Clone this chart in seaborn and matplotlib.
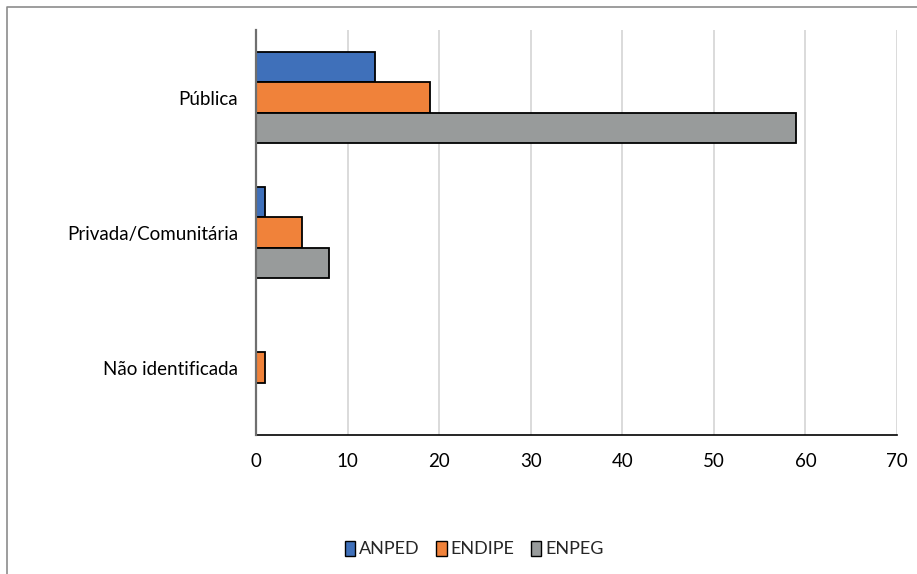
import pandas as pd
import matplotlib.pyplot as plt
import seaborn as sns
from matplotlib.lines import Line2D
from matplotlib.patches import Patch

categorias = ['Pública', 'Privada/Comunitária', 'Não identificada']
eventos = ['ANPED', 'ENDIPE', 'ENPEG']
anped = [13, 1, 0]
endipe = [19, 5, 1]
enpeg = [59, 8, 0]
cores = ['#3F70BA', '#F0823A', '#989B9B']

df = pd.DataFrame({
    'categoria': categorias * 3,
    'evento': [e for e in eventos for _ in categorias],
    'valor': anped + endipe + enpeg,
})

sns.set_style('white')
plt.rcParams['font.family'] = ['Lato', 'DejaVu Sans']

fig = plt.figure(figsize=(9.17, 5.74), dpi=100)
ax = fig.add_axes([256 / 917, 1 - 435 / 574, (897 - 256) / 917, (435 - 30) / 574])

sns.barplot(data=df, y='categoria', x='valor', hue='evento', order=categorias,
            hue_order=eventos, palette=cores, saturation=1, orient='h', width=0.667,
            edgecolor='black', linewidth=1.3, ax=ax, legend=False)

ax.set_xlim(0, 70)
ax.set_ylim(2.5, -0.5)
ax.set_xticks(range(0, 71, 10))
ax.xaxis.grid(True, color='#d4d4d4', linewidth=1.2)
ax.set_axisbelow(True)
ax.set_xlabel('')
ax.set_ylabel('')
ax.tick_params(axis='both', length=0, labelsize=13.5, colors='black')
ax.tick_params(axis='x', pad=13)
ax.tick_params(axis='y', pad=13)
for s in ['top', 'right']:
    ax.spines[s].set_visible(False)
ax.spines['left'].set_color('#6f6f6f')
ax.spines['left'].set_linewidth(1.6)
ax.spines['left'].set_zorder(5)
ax.spines['bottom'].set_color('black')
ax.spines['bottom'].set_linewidth(1.2)

handles = [Patch(facecolor=c, edgecolor='black', linewidth=1) for c in cores]
fig.legend(handles, eventos, loc='center', bbox_to_anchor=(474 / 917, 1 - 549 / 574),
           ncol=3, frameon=False, fontsize=13, handlelength=0.6, handleheight=0.9,
           handletextpad=0.2, columnspacing=0.9)

# moldura do gráfico (só topo e esquerda visíveis no recorte)
fig.add_artist(Line2D([7 / 917, 7 / 917, 1], [0, 1 - 7 / 574, 1 - 7 / 574],
                      color='#8c8c8c', linewidth=1.2, transform=fig.transFigure))

fig.savefig('out.png', dpi=100)
